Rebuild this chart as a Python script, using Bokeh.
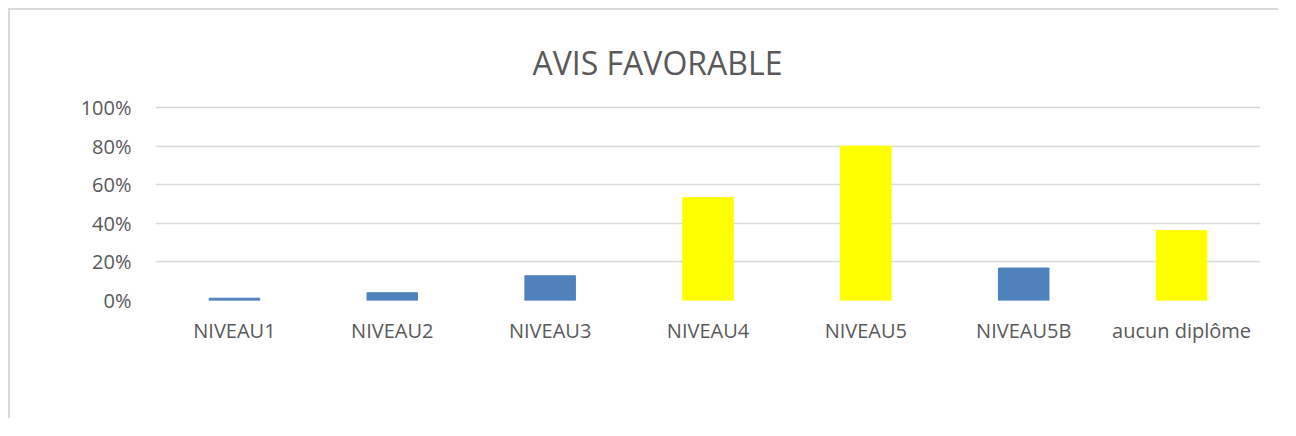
from bokeh.plotting import figure
from bokeh.models import ColumnDataSource, FixedTicker, Label
from bokeh.embed import file_html
from bokeh.resources import INLINE

# Data
categories = ["NIVEAU1", "NIVEAU2", "NIVEAU3", "NIVEAU4", "NIVEAU5", "NIVEAU5B", "aucun diplôme"]
values = [0.012, 0.04, 0.128, 0.533, 0.80, 0.168, 0.362]
bar_colors = ["#4F81BD", "#4F81BD", "#4F81BD", "#FFFF00", "#FFFF00", "#4F81BD", "#FFFF00"]
y_ticks = [0, 0.2, 0.4, 0.6, 0.8, 1.0]
y_tick_labels = ["0%", "20%", "40%", "60%", "80%", "100%"]
title_text = "AVIS FAVORABLE"

FONT = "Open Sans"
TXT = "#595959"
GRID = "#D9D9D9"

# frame extends above 100% to hold the title (invisible, white)
Y_TOP = 280 / 193.0

src = ColumnDataSource(dict(cat=categories, val=values, col=bar_colors))

p = figure(x_range=categories, y_range=(0, Y_TOP), width=1270, height=410,
           output_backend="svg", toolbar_location=None, tools="",
           min_border_left=145, min_border_right=20, min_border_top=10, min_border_bottom=120,
           styles={"margin-left": "8px", "margin-top": "8px",
                   "border-left": "2px solid #D9D9D9", "border-top": "2px solid #D9D9D9"})

p.vbar(x="cat", top="val", width=0.32, color="col", source=src)

title = Label(x=2.388, y=Y_TOP * 238 / 280.0, text=title_text,
              text_font=FONT, text_font_size="32px", text_color=TXT,
              text_align="left", text_baseline="alphabetic")
p.add_layout(title)

p.outline_line_color = None
p.background_fill_color = "white"
p.border_fill_color = "white"

p.xgrid.grid_line_color = None
p.ygrid.ticker = FixedTicker(ticks=y_ticks)
p.ygrid.grid_line_color = GRID
p.ygrid.grid_line_width = 1.5

p.yaxis.ticker = FixedTicker(ticks=y_ticks)
p.yaxis.major_label_overrides = {t: l for t, l in zip(y_ticks, y_tick_labels)}
for ax in (p.xaxis[0], p.yaxis[0]):
    ax.axis_line_color = None
    ax.major_tick_line_color = None
    ax.minor_tick_line_color = None
    ax.major_tick_out = 0
    ax.major_tick_in = 0
    ax.minor_tick_out = 0
    ax.minor_tick_in = 0
    ax.major_label_text_font = FONT
    ax.major_label_text_font_size = "20px"
    ax.major_label_text_color = TXT
p.yaxis.major_label_standoff = 24
p.xaxis.major_label_standoff = 16

open("out.html", "w").write(file_html(p, INLINE))
